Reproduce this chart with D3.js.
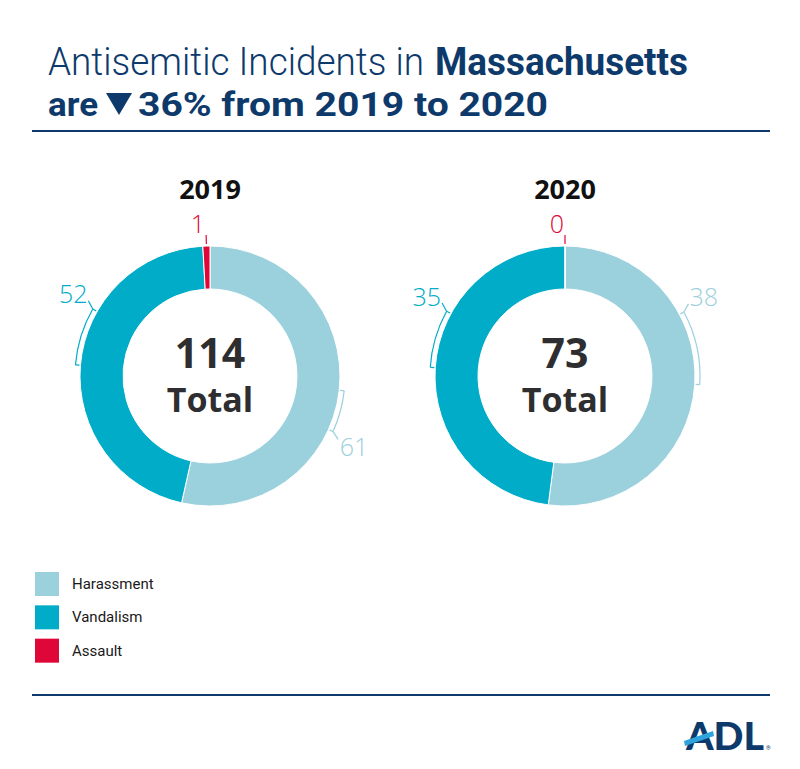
<!DOCTYPE html>
<html><head><meta charset="utf-8">
<script src="https://cdn.jsdelivr.net/npm/d3@7"></script>
<style>body{margin:0;background:#fff}svg{display:block}</style>
</head><body>
<svg id="c" width="800" height="769"></svg>
<script>
const categories = ["Harassment", "Vandalism", "Assault"];
const years = ["2019", "2020"];
const values2019 = [61, 52, 1];
const values2020 = [38, 35, 0];
const totals = [114, 73];
const titleLight = "Antisemitic Incidents in";
const titleBold = "Massachusetts";
const subtitleA = "are";
const subtitleB = "36% from 2019 to 2020";

const colors = ["#9bd0dd", "#00acc7", "#df0638"];
const navy = "#0d3a6b";
const svg = d3.select("#c");

// Title
svg.append("text").attr("x", 48).attr("y", 75)
  .attr("font-family", "Roboto").attr("font-weight", 300).attr("font-size", 38).attr("fill", navy)
  .attr("textLength", 376).attr("lengthAdjust", "spacingAndGlyphs").text(titleLight);
svg.append("text").attr("x", 435).attr("y", 75)
  .attr("font-family", "Roboto").attr("font-weight", 700).attr("font-size", 38).attr("fill", navy)
  .attr("textLength", 253).attr("lengthAdjust", "spacingAndGlyphs").text(titleBold);
svg.append("text").attr("x", 48).attr("y", 116)
  .attr("font-family", "Roboto").attr("font-weight", 700).attr("font-size", 34).attr("fill", navy)
  .attr("textLength", 50).attr("lengthAdjust", "spacingAndGlyphs").text(subtitleA);
svg.append("path").attr("d", "M106,93 L132,93 L119,115 Z").attr("fill", navy);
svg.append("text").attr("x", 138).attr("y", 116)
  .attr("font-family", "Roboto").attr("font-weight", 700).attr("font-size", 34).attr("fill", navy)
  .attr("textLength", 410).attr("lengthAdjust", "spacingAndGlyphs").text(subtitleB);

svg.append("line").attr("x1", 32).attr("x2", 770).attr("y1", 131).attr("y2", 131)
  .attr("stroke", navy).attr("stroke-width", 2);
svg.append("line").attr("x1", 32).attr("x2", 770).attr("y1", 695).attr("y2", 695)
  .attr("stroke", navy).attr("stroke-width", 2);

// Donuts
const R = 130, r = 87;
const pie = d3.pie().sort(null).startAngle(0).endAngle(2 * Math.PI);
const arc = d3.arc().innerRadius(r).outerRadius(R);
const xPos = d3.scalePoint().domain(years).range([210, 565]);
const deg = Math.PI / 180;
// bracket direction & span (degrees) per year for [Harassment, Vandalism]
const bracketStyle = { "2019": [[1, 18], [1, 25]], "2020": [[-1, 32], [1, 25]] };

function polar(a, rad) { return [Math.sin(a) * rad, -Math.cos(a) * rad]; }

[values2019, values2020].forEach((vals, i) => {
  const year = years[i];
  const cx = xPos(year), cy = 376;
  const g = svg.append("g").attr("transform", `translate(${cx},${cy})`);
  const arcs = pie(vals);
  g.selectAll("path.slice").data(arcs).join("path").attr("class", "slice")
    .attr("d", arc).attr("fill", (d, j) => colors[j])
    .attr("stroke", "#fff").attr("stroke-width", 1);

  g.append("text").attr("x", 0).attr("y", -177).attr("text-anchor", "middle")
    .attr("font-family", "Open Sans").attr("font-weight", 700).attr("font-size", 27)
    .attr("fill", "#111").text(year);
  g.append("text").attr("x", 0).attr("y", -8).attr("text-anchor", "middle")
    .attr("font-family", "Open Sans").attr("font-weight", 700).attr("font-size", 41)
    .attr("fill", "#2e2e30").text(totals[i]);
  g.append("text").attr("x", 0).attr("y", 36).attr("text-anchor", "middle")
    .attr("font-family", "Open Sans").attr("font-weight", 700).attr("font-size", 34)
    .attr("fill", "#2e2e30").text("Total");

  arcs.forEach((d, j) => {
    const mid = (d.startAngle + d.endAngle) / 2;
    if (j < 2) {
      const [dir, span] = bracketStyle[year][j];
      const a1 = mid, a2 = mid + dir * span * deg;
      const rb = R + 5;
      const lo = Math.min(a1, a2), hi = Math.max(a1, a2);
      const bArc = d3.arc().innerRadius(rb).outerRadius(rb).startAngle(lo).endAngle(hi);
      g.append("path").attr("d", bArc()).attr("fill", "none")
        .attr("stroke", colors[j]).attr("stroke-width", 1.2);
      [a1, a2].forEach(a => {
        const p1 = polar(a, rb), p2 = polar(a, R + 1);
        g.append("line").attr("x1", p1[0]).attr("y1", p1[1]).attr("x2", p2[0]).attr("y2", p2[1])
          .attr("stroke", colors[j]).attr("stroke-width", 1.2);
      });
      const q1 = polar(a2, rb), q2 = polar(a2 + dir * 2 * deg, R + 13);
      g.append("line").attr("x1", q1[0]).attr("y1", q1[1]).attr("x2", q2[0]).attr("y2", q2[1])
        .attr("stroke", colors[j]).attr("stroke-width", 1.2);
      const lp = polar(a2 + dir * 1.5 * deg, R + 30);
      g.append("text").attr("x", lp[0]).attr("y", lp[1]).attr("text-anchor", "middle")
        .attr("dominant-baseline", "central")
        .attr("font-family", "Open Sans").attr("font-weight", 300).attr("font-size", 25)
        .attr("fill", colors[j]).text(vals[j]);
    } else {
      const p1 = polar(mid, R + 2), p2 = polar(mid, R + 11);
      g.append("line").attr("x1", p1[0]).attr("y1", p1[1]).attr("x2", p2[0]).attr("y2", p2[1])
        .attr("stroke", colors[j]).attr("stroke-width", 1.2);
      g.append("text").attr("x", p2[0] - 1).attr("y", p2[1] - 2).attr("text-anchor", "end")
        .attr("font-family", "Open Sans").attr("font-weight", 300).attr("font-size", 25)
        .attr("fill", colors[j]).text(vals[j]);
    }
  });
});

// Legend
const legY = d3.scaleBand().domain(categories).range([572, 672]);
const leg = svg.selectAll("g.leg").data(categories).join("g").attr("class", "leg")
  .attr("transform", d => `translate(35,${legY(d)})`);
leg.append("rect").attr("width", 24).attr("height", 24).attr("fill", (d, i) => colors[i]);
leg.append("text").attr("x", 37).attr("y", 12).attr("dominant-baseline", "central")
  .attr("font-family", "Roboto").attr("font-size", 15).attr("fill", "#1a1a1a").text(d => d);

// ADL logo
svg.append("text").attr("x", 686).attr("y", 750)
  .attr("font-family", "Lato").attr("font-weight", 900).attr("font-size", 38)
  .attr("fill", navy).attr("textLength", 78).attr("lengthAdjust", "spacingAndGlyphs").text("ADL");
svg.append("path").attr("d", "M684,741 L713,731 L714,736 L685,746 Z").attr("fill", "#2ea3dc");
svg.append("text").attr("x", 766).attr("y", 750).attr("font-family", "Roboto")
  .attr("font-size", 6).attr("fill", navy).text("®");
</script>
</body></html>
